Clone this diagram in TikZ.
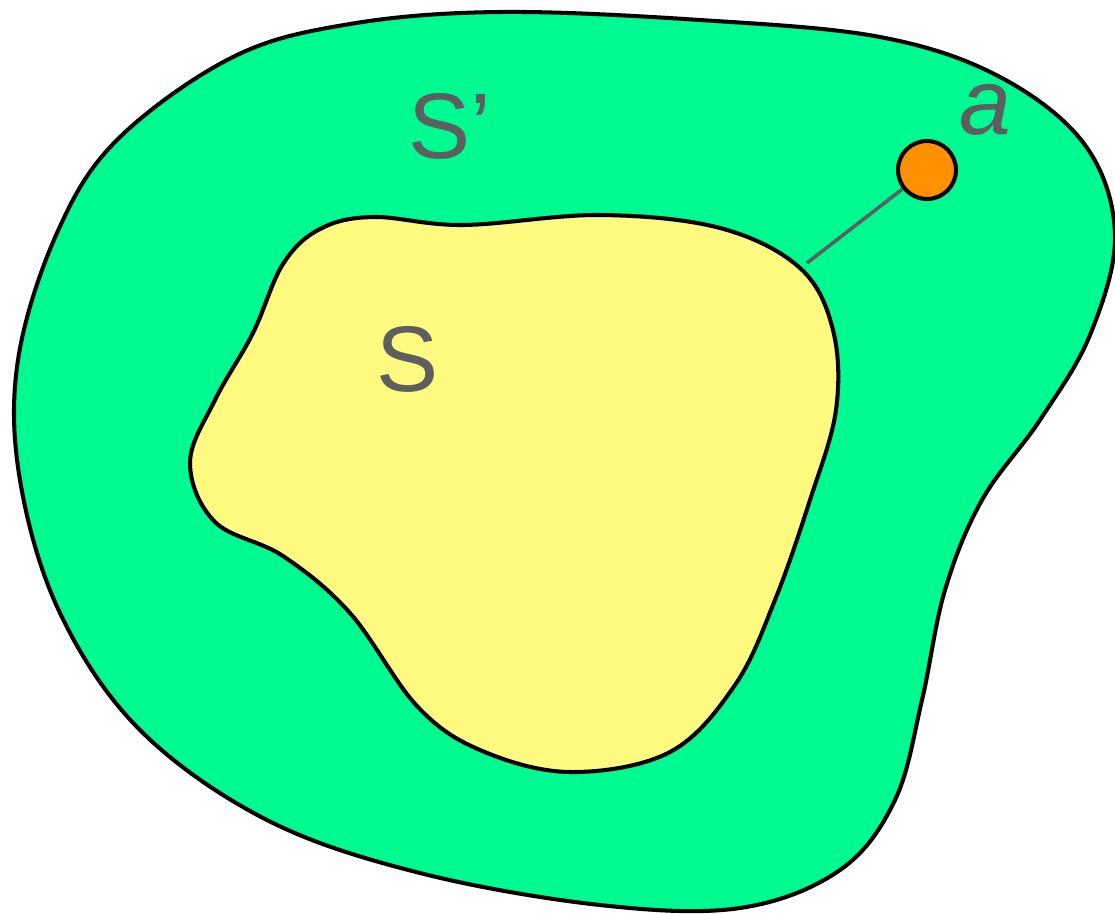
\documentclass[tikz,border=0pt]{standalone}
\usepackage{fontspec}
\setmainfont{Liberation Sans}
\usepackage{tikz}
\usetikzlibrary{calc,positioning}
\usepackage{xcolor}
\definecolor{outergreen}{RGB}{0,250,146}
\definecolor{inneryellow}{RGB}{255,250,128}
\definecolor{pointorange}{RGB}{255,145,0}
\definecolor{labelgray}{RGB}{94,94,94}
\tikzset{
  outerset/.style={
    draw=black,
    fill=outergreen,
    line width=2.3pt,
  },
  innerset/.style={
    draw=black,
    fill=inneryellow,
    line width=2.3pt,
  },
  setpoint/.style={
    draw=black,
    circle,
    fill=pointorange,
    minimum size=11.6mm,
    inner sep=0pt,
    line width=2.3pt,
  },
  link/.style={line width=2pt, draw=labelgray},
  setlabel/.style={text=labelgray, inner sep=0pt, anchor=base, font=\fontsize{53}{60}\selectfont},
}
\begin{document}
\begin{tikzpicture}[x=0.02cm, y=-0.02cm]
  \useasboundingbox (0,0) rectangle (1115,913);
  % the bigger set
  \draw[outerset] plot[smooth cycle, tension=0.6] coordinates {
    (500,12) (700,20) (880,37) (1000,77) (1085,145) (1115,235) (1090,335)
    (1040,420) (982,500) (945,590) (922,700) (895,800) (840,870) (740,908)
    (600,905) (420,873) (267,820) (140,730) (60,613) (20,480) (18,360)
    (57,233) (117,140) (233,57) (350,24)};
  % the smaller set
  \draw[innerset] plot[smooth cycle, tension=0.6] coordinates {
    (373,217) (463,225) (600,215) (720,228) (800,268) (833,330) (836,410)
    (810,500) (775,600) (735,685) (670,752) (570,772) (480,750) (417,706)
    (350,613) (283,556) (215,522) (190,463) (215,400) (253,333) (283,264)
    (320,229)};
  \coordinate (touch) at (807,263);
  \node[setpoint] (pt) at (927,170) {};
  \draw[link] (touch) -- (pt);
  \node[setlabel] (outerlbl) at (450,158) {S’};
  \node[setlabel] (innerlbl) at (408,391) {S};
  \node[setlabel, font=\fontsize{53}{60}\selectfont\itshape] (ptlbl) at (985,134) {a};
\end{tikzpicture}
\end{document}
